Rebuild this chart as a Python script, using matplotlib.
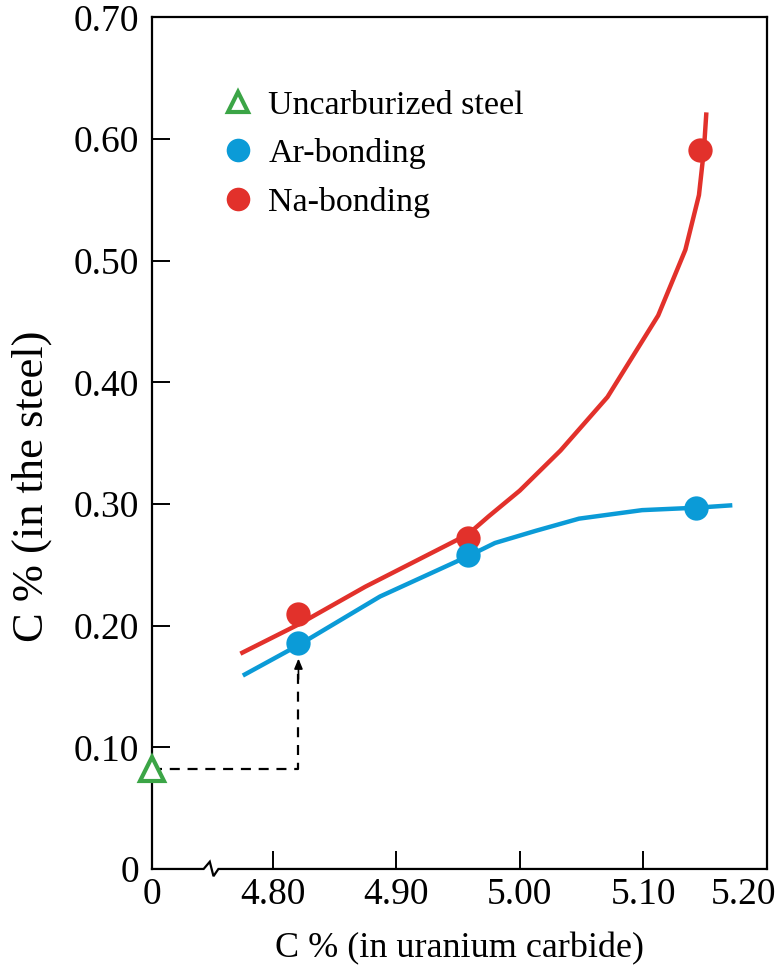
import numpy as np
import matplotlib
matplotlib.use("Agg")
import matplotlib.pyplot as plt
import matplotlib.transforms as mtransforms
from matplotlib.lines import Line2D
from matplotlib.ticker import FixedLocator, FixedFormatter

# measured carbon content: uranium carbide (x) vs steel cladding (y)
uc_points = [4.821, 4.958, 5.143]
ar_points = [0.186, 0.258, 0.297]
na_uc_points = [4.821, 4.958, 5.146]
na_points = [0.210, 0.272, 0.591]
uncarb_x = 0.0
uncarb_y = 0.082

# fitted trend curves
ar_curve_x = [4.776, 4.821, 4.887, 4.958, 4.980, 5.013, 5.048, 5.099, 5.143, 5.172]
ar_curve_y = [0.159, 0.184, 0.224, 0.257, 0.268, 0.278, 0.288, 0.295, 0.297, 0.299]
na_curve_x = [4.774, 4.821, 4.875, 4.958, 4.975, 5.000, 5.033, 5.071, 5.112, 5.134, 5.145, 5.149, 5.151]
na_curve_y = [0.177, 0.201, 0.232, 0.275, 0.290, 0.311, 0.344, 0.388, 0.455, 0.509, 0.554, 0.591, 0.622]

x_ticks = [0, 4.80, 4.90, 5.00, 5.10, 5.20]
x_labels = ["0", "4.80", "4.90", "5.00", "5.10", "5.20"]
y_ticks = [0, 0.10, 0.20, 0.30, 0.40, 0.50, 0.60, 0.70]
y_labels = ["0", "0.10", "0.20", "0.30", "0.40", "0.50", "0.60", "0.70"]

BLUE = "#0b9bd7"
RED = "#e2312b"
GREEN = "#3ba546"

# broken x axis: squeeze 0..4.75 into a short stub left of the break
X0, XB = 4.7025, 4.75


def _fwd(x):
    x = np.asarray(x, dtype=float)
    return np.where(x < XB, X0 + x * (XB - X0) / XB, x)


def _inv(v):
    v = np.asarray(v, dtype=float)
    return np.where(v < XB, (v - X0) * XB / (XB - X0), v)


plt.rcParams["font.family"] = ["Liberation Serif", "DejaVu Serif"]
plt.rcParams["mathtext.fontset"] = "stix"

fig = plt.figure(figsize=(7.81, 9.72), dpi=100)
ax = fig.add_axes([0.1946, 0.106, 0.7874, 0.876])
ax.set_xscale("function", functions=(_fwd, _inv))
ax.set_xlim(0, 5.20)
ax.set_ylim(0, 0.70)

ax.plot(ar_curve_x, ar_curve_y, color=BLUE, lw=3.2, solid_capstyle="butt", zorder=2)
ax.plot(na_curve_x, na_curve_y, color=RED, lw=3.2, solid_capstyle="butt", zorder=2)
ax.plot(na_uc_points, na_points, "o", color=RED, ms=17.5, mec="none", zorder=3)
ax.plot(uc_points, ar_points, "o", color=BLUE, ms=17.5, mec="none", zorder=4)

# uncarburized steel reference and the path to the first Ar point
ax.plot([uncarb_x, uc_points[0], uc_points[0]],
        [uncarb_y, uncarb_y, ar_points[0] - 0.025],
        color="black", lw=1.6, ls=(0, (4.5, 3.5)), zorder=1)
ax.annotate("", xy=(uc_points[0], ar_points[0] - 0.013),
            xytext=(uc_points[0], ar_points[0] - 0.030),
            arrowprops=dict(arrowstyle="-|>,head_length=0.6,head_width=0.25",
                            color="black", lw=1.2, shrinkA=0, shrinkB=0),
            zorder=5)
ax.plot([uncarb_x], [uncarb_y], "^", ms=17, mfc="white", mec=GREEN, mew=3,
        clip_on=False, zorder=6)

ax.xaxis.set_major_locator(FixedLocator(x_ticks))
ax.xaxis.set_major_formatter(FixedFormatter(x_labels))
ax.set_yticks(y_ticks)
ax.set_yticklabels(y_labels)
ax.xaxis.set_minor_locator(FixedLocator([]))
ax.tick_params(direction="in", length=13, width=1.4, labelsize=27, pad=9)
ax.tick_params(axis="x", pad=6)
for side in ("top", "right", "left"):
    ax.spines[side].set_linewidth(1.6)
ax.spines["bottom"].set_visible(False)

# last x label sits tucked in against the right edge
fig.canvas.draw()
last = ax.xaxis.get_major_ticks()[-1].label1
last.set_horizontalalignment("right")
last.set_transform(last.get_transform()
                   + mtransforms.ScaledTranslation(9 / 100, 0, fig.dpi_scale_trans))

# bottom spine with the zig-zag break mark
bx = 0.096
ax.plot([0, bx - 0.012, bx - 0.002, bx + 0.004, bx + 0.012, 1.0],
        [0, 0, 0.0085, -0.0085, 0, 0],
        transform=ax.transAxes, color="black", lw=1.6, clip_on=False,
        solid_joinstyle="miter")

ax.set_xlabel("C % (in uranium carbide)", fontsize=26, labelpad=15)
ax.set_ylabel("C % (in the steel)", fontsize=32)
ax.yaxis.set_label_coords(-0.163, 0.45)

handles = [
    Line2D([], [], ls="none", marker="^", ms=15, mfc="white", mec=GREEN, mew=3),
    Line2D([], [], ls="none", marker="o", ms=17, color=BLUE, mec="none"),
    Line2D([], [], ls="none", marker="o", ms=17, color=RED, mec="none"),
]
ax.legend(handles, ["Uncarburized steel", "Ar-bonding", "Na-bonding"],
          loc="upper left", bbox_to_anchor=(0.096, 0.931), frameon=False,
          fontsize=24.5, handlelength=0.8, handletextpad=0.48, labelspacing=0.52,
          borderaxespad=0)

fig.savefig("out.png", dpi=100)
